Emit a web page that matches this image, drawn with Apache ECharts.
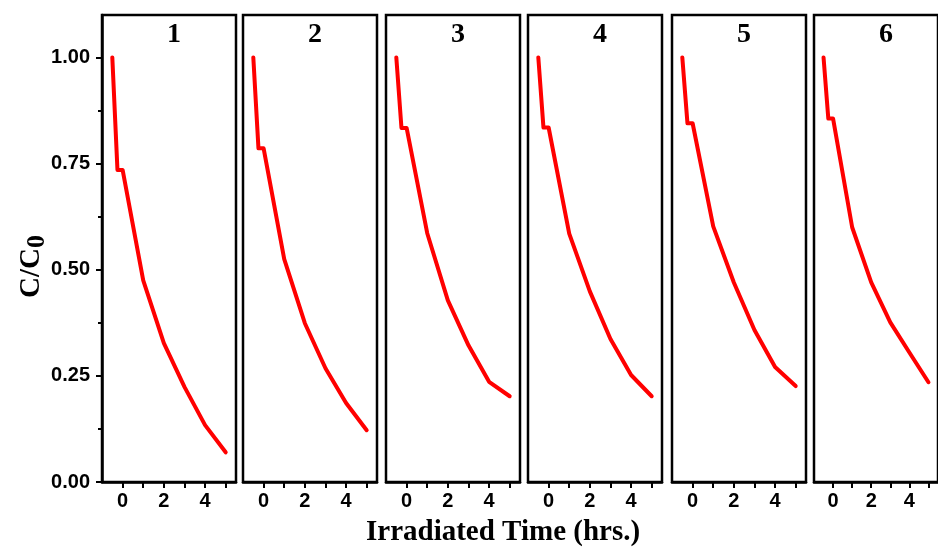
<!DOCTYPE html>
<html>
<head>
<meta charset="utf-8">
<script src="https://cdn.jsdelivr.net/npm/echarts@6/dist/echarts.min.js"></script>
<style>html,body{margin:0;padding:0;background:#fff;}#c{width:938px;height:552px;}</style>
</head>
<body>
<div id="c"></div>
<script>
// Data
const panelNames = ['1', '2', '3', '4', '5', '6'];
const timeHrs = [-0.5, -0.25, 0, 1, 2, 3, 4, 5];
const run1 = [1.00, 0.735, 0.735, 0.475, 0.327, 0.224, 0.134, 0.070];
const run2 = [1.00, 0.786, 0.786, 0.525, 0.374, 0.268, 0.186, 0.122];
const run3 = [1.00, 0.834, 0.834, 0.586, 0.428, 0.322, 0.236, 0.202];
const run4 = [1.00, 0.835, 0.835, 0.585, 0.449, 0.337, 0.252, 0.202];
const run5 = [1.00, 0.845, 0.845, 0.602, 0.470, 0.358, 0.271, 0.226];
const run6 = [1.00, 0.856, 0.856, 0.600, 0.470, 0.376, 0.305, 0.235];
const runs = [run1, run2, run3, run4, run5, run6];
const yTickValues = [0, 0.25, 0.5, 0.75, 1.0];
const yMinorTickValues = [0.125, 0.375, 0.625, 0.875];
const xTickLabels = ['0', '2', '4'];

const panelLeft = [102, 243, 386, 528, 672, 814];
const panelWidth = 134;
const panelTop = 15;
const panelHeight = 467;

const chart = echarts.init(document.getElementById('c'));
const grids = [], xAxes = [], yAxes = [], series = [], titles = [];
runs.forEach((vals, i) => {
  grids.push({left: panelLeft[i], top: panelTop, width: panelWidth, height: panelHeight,
    show: true, borderColor: '#000', borderWidth: 2.5, backgroundColor: 'transparent'});
  xAxes.push({type: 'value', gridIndex: i, min: -1, max: 5.5, interval: 1,
    axisLine: {show: true, onZero: false, lineStyle: {color: '#000', width: 2.5}},
    axisTick: {show: true, length: 6, lineStyle: {color: '#000', width: 2}},
    axisLabel: {margin: 9, color: '#000', fontFamily: 'Liberation Sans', fontWeight: 'bold', fontSize: 20,
      showMinLabel: false, showMaxLabel: false,
      formatter: v => xTickLabels.indexOf(String(v)) >= 0 ? String(v) : ''},
    splitLine: {show: false}});
  yAxes.push({type: 'value', gridIndex: i, min: 0, max: 1.1,
    axisLine: {show: i === 0, onZero: false, lineStyle: {color: '#000', width: 2.5}},
    axisTick: {show: i === 0, length: 6, customValues: yTickValues, lineStyle: {color: '#000', width: 2}},
    axisLabel: {show: i === 0, margin: 12, color: '#000', fontFamily: 'Liberation Sans', fontWeight: 'bold', fontSize: 20,
      customValues: yTickValues, formatter: v => v.toFixed(2)},
    splitLine: {show: false}});
});
// minor ticks for the first panel's y axis
yAxes.push({type: 'value', gridIndex: 0, min: 0, max: 1.1, position: 'left',
  axisLine: {show: false, onZero: false},
  axisTick: {show: true, length: 4, customValues: yMinorTickValues, lineStyle: {color: '#000', width: 2}},
  axisLabel: {show: false}, splitLine: {show: false}});

runs.forEach((vals, i) => {
  series.push({type: 'line', xAxisIndex: i, yAxisIndex: i, showSymbol: false, symbol: 'none',
    data: timeHrs.map((t, k) => [t, vals[k]]),
    lineStyle: {color: '#ff0000', width: 4, join: 'round', cap: 'round'}, animation: false});
  titles.push({text: panelNames[i], left: panelLeft[i] + panelWidth / 2, top: 16, textAlign: 'center',
    textStyle: {fontFamily: 'Liberation Serif', fontWeight: 'bold', fontSize: 28, color: '#000'}});
});

chart.setOption({
  animation: false,
  backgroundColor: '#fff',
  title: titles,
  grid: grids, xAxis: xAxes, yAxis: yAxes, series: series,
  graphic: [
    {type: 'text', left: 366, top: 518,
      style: {text: 'Irradiated Time (hrs.)', font: 'bold 29px "Liberation Serif"', fill: '#000'}},
    {type: 'text', x: 14, y: 298, rotation: Math.PI / 2,
      style: {text: '{a|C/C}{b|0}', fill: '#000',
        rich: {a: {font: 'bold 29px "Liberation Serif"', fill: '#000'},
               b: {font: 'bold 26px "Liberation Serif"', fill: '#000', padding: [10, 0, 0, 0]}}}}
  ]
});
</script>
</body>
</html>
